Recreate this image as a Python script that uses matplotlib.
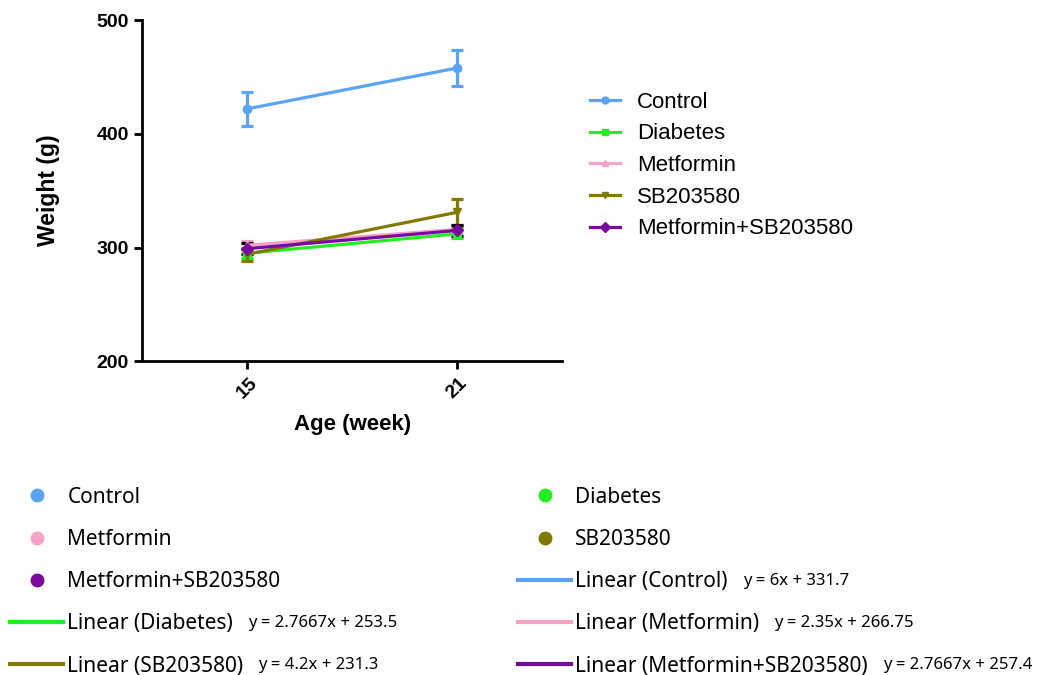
import numpy as np
import matplotlib.pyplot as plt
from matplotlib.lines import Line2D

# date
varste = ["15", "21"]
grupuri = ["Control", "Diabetes", "Metformin", "SB203580", "Metformin+SB203580"]
control = [422, 458]
control_err = [15, 16]
diabetes = [295, 312]
diabetes_err = [4, 4]
metformin = [302, 316]
metformin_err = [4, 4]
sb = [294, 331]
sb_err = [6, 12]
met_sb = [299, 315]
met_sb_err = [5, 5]

ecuatii = {
    "Control": "y = 6x + 331.7",
    "Diabetes": "y = 2.7667x + 253.5",
    "Metformin": "y = 2.35x + 266.75",
    "SB203580": "y = 4.2x + 231.3",
    "Metformin+SB203580": "y = 2.7667x + 257.4",
}

culori = ["#5ba3f5", "#22ee22", "#f5a3c8", "#807a00", "#7a0a9c"]
markere = ["o", "s", "^", "v", "D"]
culori_err = ["#5ba3f5", "#22ee22", "#f5a3c8", "#807a00", "black"]

valori = [control, diabetes, metformin, sb, met_sb]
erori = [control_err, diabetes_err, metformin_err, sb_err, met_sb_err]

fig = plt.figure(figsize=(10.45, 6.75), dpi=100)
ax = fig.add_axes([0.136, 0.465, 0.402, 0.505])

x = np.arange(len(varste))
handles_sus = []
for i in range(len(grupuri)):
    ax.errorbar(x, valori[i], yerr=erori[i], color=culori[i], ecolor=culori_err[i],
                marker=markere[i], markersize=6, linewidth=2.3, elinewidth=2.3,
                capsize=4.5, capthick=2.3)
    handles_sus.append(Line2D([], [], color=culori[i], marker=markere[i],
                              markersize=5, linewidth=2.3))

ax.set_xlim(-0.5, 1.5)
ax.set_ylim(200, 500)
ax.set_yticks([200, 300, 400, 500])
ax.set_xticks(x)
ax.set_xticklabels(varste, rotation=45, fontsize=14, fontweight="bold", family="Liberation Sans")
for t in ax.get_yticklabels():
    t.set_fontsize(14)
    t.set_fontweight("bold")
    t.set_family("Liberation Sans")
ax.spines["top"].set_visible(False)
ax.spines["right"].set_visible(False)
ax.spines["left"].set_linewidth(2)
ax.spines["bottom"].set_linewidth(2)
ax.tick_params(width=2, length=6)
ax.set_xlabel("Age (week)", fontsize=16, fontweight="bold", family="Liberation Sans", labelpad=9)
ax.set_ylabel("Weight (g)", fontsize=16.5, fontweight="bold", family="Liberation Sans", labelpad=26)

ax.legend(handles_sus, grupuri, loc="upper left", bbox_to_anchor=(0.5646, 0.864),
          bbox_transform=fig.transFigure, frameon=False,
          prop={"family": "Liberation Sans", "size": 16},
          handlelength=1.35, handletextpad=0.77, labelspacing=0.48,
          borderaxespad=0, borderpad=0)

# legenda de jos (stil Excel), doua coloane
h_pct = [Line2D([], [], marker="o", linestyle="none", color=c, markersize=9) for c in culori]
h_lin = [Line2D([], [], color=c, linewidth=3) for c in culori]
col_st = ([h_pct[0], h_pct[2], h_pct[4], h_lin[1], h_lin[3]],
          [grupuri[0], grupuri[2], grupuri[4], "Linear (Diabetes)", "Linear (SB203580)"])
col_dr = ([h_pct[1], h_pct[3], h_lin[0], h_lin[2], h_lin[4]],
          [grupuri[1], grupuri[3], "Linear (Control)", "Linear (Metformin)",
           "Linear (Metformin+SB203580)"])

legende = []
for (hs, ls), x0 in [(col_st, 0.0096), (col_dr, 0.4957)]:
    lg = fig.legend(hs, ls, loc="upper left", bbox_to_anchor=(x0, 0.279),
                    frameon=False, prop={"family": "Noto Sans", "size": 15},
                    handlelength=2.55, handletextpad=0.2, labelspacing=1.02,
                    borderaxespad=0, borderpad=0)
    legende.append(lg)

fig.canvas.draw()
for lg in legende:
    for t in lg.get_texts():
        eticheta = t.get_text()
        if eticheta.startswith("Linear"):
            grup = eticheta[len("Linear ("):-1]
            bb = t.get_window_extent()
            fig.text(bb.x1 + 15, (bb.y0 + bb.y1) / 2 + 1, ecuatii[grup], transform=None,
                     fontsize=12, family="Noto Sans", va="center", ha="left")

fig.savefig("out.png", dpi=100)
